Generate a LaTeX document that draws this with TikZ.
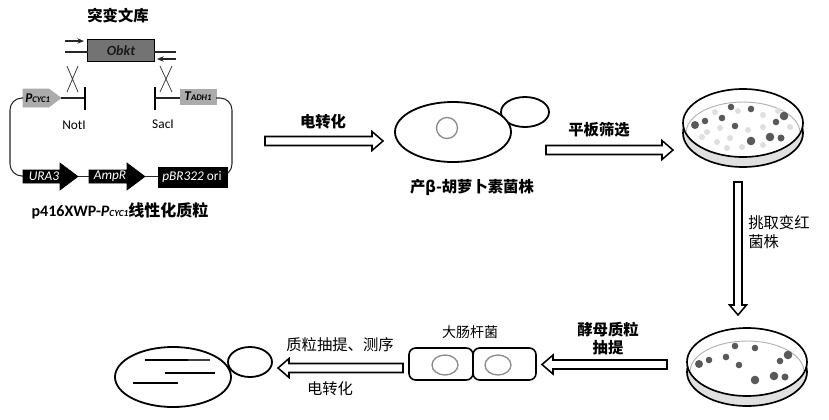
\documentclass[tikz,border=0pt]{standalone}
\usepackage{fontspec}
\setmainfont{Carlito}
\newfontfamily\cjk{Noto Sans CJK SC}
\usetikzlibrary{arrows.meta}
\tikzset{
  harrow/.style={draw=black, fill=white, line width=1.15pt, line join=miter},
  lab/.style={inner sep=0pt, font=\cjk\fontsize{11.5}{13}\selectfont},
  labb/.style={inner sep=0pt, font=\cjk\bfseries\fontsize{11.5}{13}\selectfont},
  thinl/.style={line width=0.8pt, draw=black!85},
  cell/.style={line width=1.35pt, draw=black, fill=white},
  nucl/.style={line width=1pt, draw=black!45},
  dot/.style={fill=black!65},
  ldot/.style={fill=gray!25},
  genebk/.style={fill=black, draw=black},
  genegr/.style={fill=black!33, draw=black!33},
  latin/.style={inner sep=0pt, font=\fontsize{10}{12}\selectfont},
}
\newcommand{\HArrR}[3]{\draw[harrow] (#1,#3-4.5) -- ({#2-11},#3-4.5) -- ({#2-11},#3-9.5) -- (#2,#3) -- ({#2-11},#3+9.5) -- ({#2-11},#3+4.5) -- (#1,#3+4.5) -- cycle;}
\newcommand{\HArrL}[3]{\draw[harrow] (#1,#3-4.5) -- ({#2+11},#3-4.5) -- ({#2+11},#3-9.5) -- (#2,#3) -- ({#2+11},#3+9.5) -- ({#2+11},#3+4.5) -- (#1,#3+4.5) -- cycle;}
\newcommand{\HArrD}[3]{\draw[harrow] (#1-4,#2) -- (#1-4,{#3-10}) -- (#1-8.5,{#3-10}) -- (#1,#3) -- (#1+8.5,{#3-10}) -- (#1+4,{#3-10}) -- (#1+4,#2) -- cycle;}
\newcommand{\petri}[4]{% name, cx, cy, light dots?
  \coordinate (#1) at (#2,#3);
  \draw[line width=1.25pt, fill=black!12] (#2,#3+10) ellipse [x radius=60, y radius=34];
  \draw[line width=1.25pt, fill=white] (#2,#3) ellipse [x radius=60, y radius=34];
  \begin{scope}
    \clip (#2,#3) ellipse [x radius=59.3, y radius=33.3];
    \draw[black!30, line width=0.7pt] (#2,#3+10) ellipse [x radius=57, y radius=31];
  \end{scope}
  \ifnum#4=1
  \foreach \dx/\dy in {-28/-11,20/-8,-23/5,-36/9,5/7,-13/15,-26/19,-16/25,20/4,47/4,-1/24,20/22,-41/14,-5/-12,35/-12}
    \fill[ldot] (#2+\dx,#3+\dy) circle [radius=3];
  \fi
  \foreach \dx/\dy/\r in {-12/-16/3.3,8/-14/3.3,41/-7/4.3,-21/-5/3.3,-38/-2/3.3,-48/2/4,-8/3/3.3,33/-1/3.3,8/18/4.3,27/14/4.3,38/15/3.5}
    \fill[dot] (#2+\dx,#3+\dy) circle [radius=\r];
}
\begin{document}
\begin{tikzpicture}[x=0.75pt,y=-0.75pt]
\useasboundingbox (0,0) rectangle (829,419);
\fill[white] (0,0) rectangle (829,419);

% ---------------- plasmid ----------------
\node[labb] (lib) at (118,16) {突变文库};
\draw[line width=0.8pt] (88,40) rectangle (154,61);
\fill[black!55] (88.4,40.4) rectangle (153.6,60.6);
\node[inner sep=0pt, font=\bfseries\itshape\fontsize{10.5}{12}\selectfont, text=black!90] (obkt) at (121,50.5) {Obkt};
\coordinate (obL) at (88,52);
\coordinate (obR) at (154,52);
\coordinate (lL) at (65,52);
\coordinate (lR) at (176,52);
\draw[thinl] (lL) -- (obL);
\draw[thinl] (obR) -- (lR);
\coordinate (pf1) at (65,41);
\coordinate (pf2) at (84,41);
\coordinate (pr1) at (176,59);
\coordinate (pr2) at (157,59);
\draw[thinl, -{Stealth[length=5pt,width=4pt]}] (pf1) -- (pf2);
\draw[thinl, -{Stealth[length=5pt,width=4pt]}] (pr1) -- (pr2);
% crosses
\draw[line width=0.6pt, black!75] (67,66) -- (78,92) (78,66) -- (67,92);
\draw[line width=0.6pt, black!75] (160,66) -- (172,92) (172,66) -- (160,92);
% P CYC1
\fill[genegr] (23,89) -- (49,89) -- (61,98) -- (49,107) -- (23,107) -- cycle;
\node[inner sep=0pt, anchor=west] (pcyc) at (25,98) {\fontsize{10}{12}\selectfont\bfseries\itshape P\fontsize{6.5}{7}\selectfont CYC1};
\coordinate (nbar) at (85,98);
\draw[thinl] (61,98) -- (nbar);
\draw[line width=1pt] (85,87) -- (85,110);
\node[latin] (noti) at (74,125) {NotI};
% T ADH1
\coordinate (sbar) at (155,98);
\draw[line width=1pt] (155,87) -- (155,110);
\draw[thinl] (sbar) -- (180,98);
\fill[genegr] (180,89) rectangle (216,104);
\node[inner sep=0pt] (tadh) at (198,96.5) {\fontsize{10}{12}\selectfont\bfseries\itshape T\fontsize{6.5}{7}\selectfont ADH1};
\node[latin] (saci) at (163,124) {SacI};
% backbone
\draw[thinl, rounded corners=9pt] (216,98) -- (232,98) -- (232,176) -- (227,176);
\draw[thinl, rounded corners=9pt] (23,98) -- (10,98) -- (10,176) -- (23,176);
\fill[genebk] (23,170) -- (60,170) -- (60,163) -- (78,176.5) -- (60,190) -- (60,183) -- (23,183) -- cycle;
\node[inner sep=0pt, text=white, font=\itshape\fontsize{10}{12}\selectfont] (ura) at (44,176.5) {URA3};
\draw[thinl] (78,176.5) -- (89,176.5);
\fill[genebk] (89,170) -- (127,170) -- (127,163) -- (145,176.5) -- (127,190) -- (127,183) -- (89,183) -- cycle;
\node[inner sep=0pt, text=white, font=\itshape\fontsize{10}{12}\selectfont] (amp) at (110,176.5) {AmpR};
\draw[thinl] (145,176.5) -- (158,176.5);
\fill[genebk] (158,167) rectangle (227,187);
\node[inner sep=0pt, text=white, font=\fontsize{10}{12}\selectfont] (ori) at (192,177) {\textit{pBR322} ori};
\node[inner sep=0pt] (cap) at (120,211) {\fontsize{12}{14}\selectfont\bfseries p416XWP-\textit{P}{\fontsize{7}{8}\selectfont\textit{CYC1}}\cjk 线性化质粒};

% ---------------- arrow 1 ----------------
\node[labb] (t1) at (323,122) {电转化};
\HArrR{265}{383}{141}

% ---------------- yeast 1 ----------------
\coordinate (y1) at (453,132);
\coordinate (b1) at (525,112);
\draw[cell] (b1) ellipse [x radius=24, y radius=15];
\draw[cell] (y1) ellipse [x radius=58, y radius=30];
\draw[nucl] (447,128) circle [radius=10.5];
\node[labb] (t2) at (472,187) {产β-胡萝卜素菌株};

% ---------------- arrow 2 ----------------
\node[labb] (t3) at (599,130) {平板筛选};
\HArrR{546}{673}{150}

% ---------------- plates ----------------
\petri{p1}{743}{123}{1}
\HArrD{738}{182}{315}
\node[lab, anchor=west] (t4) at (748,223) {挑取变红};
\node[lab, anchor=west] (t5) at (748,242) {菌株};
\petri{p2}{747}{362}{0}

% ---------------- arrow 4 ----------------
\node[labb] (t6) at (608,330) {酵母质粒};
\node[labb] (t7) at (608,348) {抽提};
\HArrL{667}{542}{364.5}

% ---------------- E. coli ----------------
\node[lab, font=\cjk\fontsize{10.5}{12}\selectfont] (t8) at (470,332) {大肠杆菌};
\draw[line width=1.2pt, rounded corners=5pt] (409,348) rectangle (473,380);
\draw[line width=1.2pt, rounded corners=5pt] (473,348) rectangle (536,380);
\draw[nucl] (445,365) ellipse [x radius=13, y radius=10];
\draw[nucl] (498,365) ellipse [x radius=13, y radius=10];

% ---------------- arrow 5 ----------------
\node[lab] (t9) at (340,345) {质粒抽提、测序};
\node[lab] (t10) at (330,389) {电转化};
\HArrL{403}{278}{368}

% ---------------- yeast 2 ----------------
\coordinate (y2) at (173,377);
\coordinate (b2) at (250,362);
\draw[cell] (b2) ellipse [x radius=22, y radius=15];
\draw[cell] (y2) ellipse [x radius=58, y radius=30];
\draw[line width=0.9pt] (145,360) -- (188,360);
\draw[line width=0.9pt, black!75] (188,360) -- (210,360);
\draw[line width=0.9pt] (165,373) -- (215,373);
\draw[line width=0.9pt] (133,383) -- (178,383);
\end{tikzpicture}
\end{document}
